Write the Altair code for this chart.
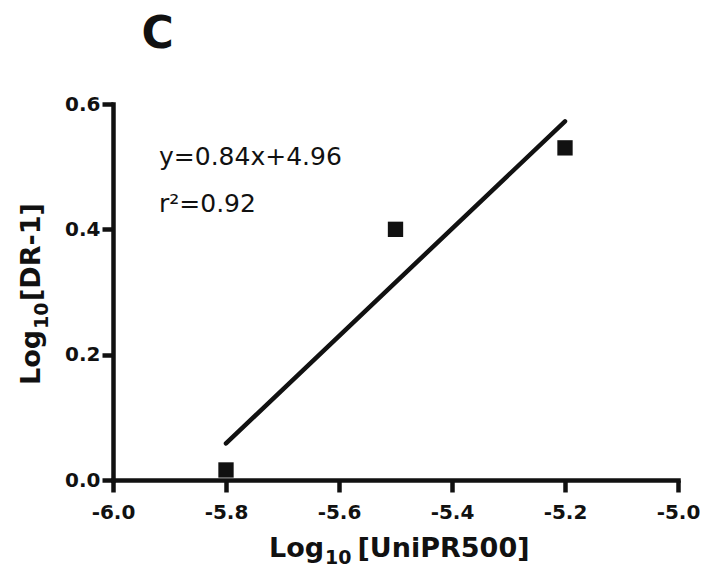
import altair as alt
import pandas as pd

# ---- data ----
x_vals = [-5.8, -5.5, -5.2]
y_vals = [0.016, 0.400, 0.530]

x_ticks = [-6.0, -5.8, -5.6, -5.4, -5.2, -5.0]
y_ticks = [0.0, 0.2, 0.4, 0.6]
x_domain = [-6.0, -5.0]
y_domain = [0.0, 0.6]

panel_label = ["C"]
eq_line1 = ["y=0.84x+4.96"]
eq_line2 = ["r\u00b2=0.92"]
x_title_main = ["Log"]
x_title_sub = ["10"]
x_title_rest = ["[UniPR500]"]
y_title_main = ["Log"]
y_title_sub = ["10"]
y_title_rest = ["[DR-1]"]

df = pd.DataFrame({"x": x_vals, "y": y_vals})

W, H = 565, 376
INK = "#111111"
FONT = "DejaVu Sans"

label_expr = "(datum.value < 0 ? '-' : '') + format(abs(datum.value), '.1f')"

xaxis = alt.Axis(values=x_ticks, title=None, grid=False, labelExpr=label_expr,
                 domainWidth=4.5, domainColor=INK, domainCap="square",
                 tickWidth=4.5, tickSize=12, tickColor=INK,
                 labelFont=FONT, labelFontWeight="bold", labelFontSize=20,
                 labelColor=INK, labelPadding=10, labelFlush=False)
yaxis = alt.Axis(values=y_ticks, title=None, grid=False, labelExpr=label_expr,
                 domainWidth=4.5, domainColor=INK, domainCap="square",
                 tickWidth=4.5, tickSize=11, tickColor=INK,
                 labelFont=FONT, labelFontWeight="bold", labelFontSize=20,
                 labelColor=INK, labelPadding=2, labelFlush=False)

xs = alt.Scale(domain=x_domain, nice=False, zero=False)
ys = alt.Scale(domain=y_domain, nice=False, zero=False)

base = alt.Chart(df)

points = base.mark_square(size=235, color=INK, opacity=1).encode(
    x=alt.X("x:Q", scale=xs, axis=xaxis),
    y=alt.Y("y:Q", scale=ys, axis=yaxis),
)

fit = base.transform_regression("x", "y").mark_line(
    color=INK, strokeWidth=4.5, strokeCap="round"
).encode(
    x=alt.X("x:Q", scale=xs),
    y=alt.Y("y:Q", scale=ys),
)


def txt(values, x, y, size, weight="normal", angle=0, align="left"):
    return alt.Chart(pd.DataFrame({"t": values})).mark_text(
        font=FONT, fontSize=size, fontWeight=weight, color=INK,
        align=align, baseline="alphabetic", angle=angle,
    ).encode(text="t:N", x=alt.value(x), y=alt.value(y))


layers = [
    fit,
    points,
    txt(panel_label, 28.5, -56, 44, "bold"),
    txt(eq_line1, 46, 61, 25),
    txt(eq_line2, 46, 107.7, 25),
    # x axis title with subscript
    txt(x_title_main, 156, 453, 27, "bold"),
    txt(x_title_sub, 212, 460, 19, "bold"),
    txt(x_title_rest, 244.5, 453, 27, "bold"),
    # y axis title (rotated) with subscript
    txt(y_title_main, -73, 281, 27, "bold", angle=270),
    txt(y_title_sub, -65, 225, 19, "bold", angle=270),
    txt(y_title_rest, -73, 197, 27, "bold", angle=270),
]

chart = alt.layer(*layers).properties(
    width=W, height=H,
    autosize=alt.AutoSizeParams(type="none"),
    padding={"left": 105, "top": 96, "right": 22, "bottom": 87},
    background="white",
).configure_view(stroke=None)

chart.save("out.html", embed_options={"renderer": "svg", "actions": False})
